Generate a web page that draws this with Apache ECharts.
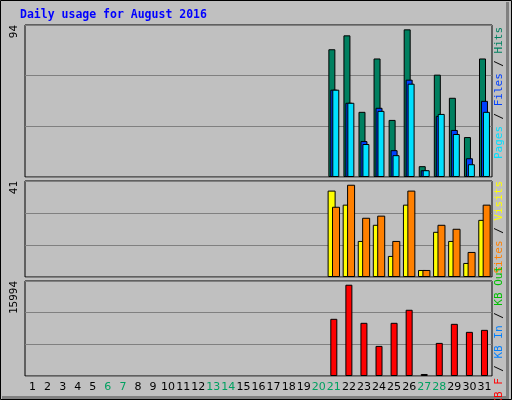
<!DOCTYPE html>
<html><head><meta charset="utf-8">
<script src="https://cdn.jsdelivr.net/npm/echarts@6/dist/echarts.min.js"></script>
<style>html,body{margin:0;padding:0;background:#c0c0c0}#c{width:512px;height:400px}</style>
</head><body><div id="c"></div>
<script>
const days = Array.from({length:31},(_,i)=>String(i+1));
const weekend = ['6','7','13','14','20','21','27','28'];
const hits  = [0,0,0,0,0,0,0,0,0,0,0,0,0,0,0,0,0,0,0,0,79,87.6,40.3,73.3,35.3,91.3,6.7,63.3,49,24.7,73.3];
const files = [0,0,0,0,0,0,0,0,0,0,0,0,0,0,0,0,0,0,0,0,54,45.9,22.2,42.8,16.6,60.2,4.2,37.8,29.1,11.6,47.1];
const pages = [0,0,0,0,0,0,0,0,0,0,0,0,0,0,0,0,0,0,0,0,54,45.9,20.4,40.9,13.5,57.7,4.2,39,26.6,7.9,40.3];
const visits= [0,0,0,0,0,0,0,0,0,0,0,0,0,0,0,0,0,0,0,0,36.9,30.9,15.4,22.3,9,30.9,3,19.3,15.4,6,24.4];
const sites = [0,0,0,0,0,0,0,0,0,0,0,0,0,0,0,0,0,0,0,0,30,39.4,25.3,26.2,15.4,36.9,3,22.3,20.6,10.7,30.9];
const kbytes= [0,0,0,0,0,0,0,0,0,0,0,0,0,0,0,0,0,0,0,0,9627,15367,8952,5067,8952,11150,338,5574,8783,7432,7770];
const maxLabels = ['94','41','15994'];
const maxVals = [94,41,15994];

const nz = a => a.map(v => v === 0 ? null : v);
const chart = echarts.init(document.getElementById('c'));
const grids = [{top:25,height:152},{top:181,height:96},{top:281,height:95}].map(g=>({
  left:25,right:20,top:g.top,height:g.height,show:true,backgroundColor:'#c0c0c0',borderColor:'#000',borderWidth:1
}));
const xAxes = grids.map((g,i)=>({
  type:'category',data:days,gridIndex:i,axisTick:{show:false},axisLine:{show:false},
  axisLabel:{show:i===2,interval:0,fontFamily:'DejaVu Sans',fontSize:11,margin:6,
    color:(v)=>weekend.includes(v)?'#00a060':'#000'}
}));
const yAxes = maxVals.map((m,i)=>({
  type:'value',gridIndex:i,min:0,max:m,interval:m/3,axisLabel:{show:false},
  axisLine:{show:false},axisTick:{show:false},splitLine:{lineStyle:{color:'#808080',width:1}}
}));
const bs = (name,data,color,xi,extra) => Object.assign({
  type:'bar',name,data:nz(data),xAxisIndex:xi,yAxisIndex:xi,barWidth:7,
  itemStyle:{color,borderColor:'#000',borderWidth:1},animation:false
},extra||{});
const rt = (text,x,y,color,fs,font) => ({type:'text',x,y,rotation:Math.PI/2,
  style:{text,fill:color,font:'normal '+fs+'px '+font,textAlign:'right',textVerticalAlign:'middle'}});
const legendParts = (parts, x, yTop) => {
  const out=[]; let y=yTop; const cw=6.6;
  parts.forEach(([t,c])=>{out.push(rt(t,x,y,c,11,'DejaVu Sans Mono')); y+=t.length*cw;});
  return out;
};
chart.setOption({
  backgroundColor:'#c0c0c0',
  grid:grids,xAxis:xAxes,yAxis:yAxes,
  series:[
    bs('Hits',hits,'#008060',0,{barGap:'-72%'}),
    bs('Files',files,'#0040ff',0,{barGap:'-72%'}),
    bs('Pages',pages,'#00e0ff',0,{barGap:'-72%'}),
    bs('Visits',visits,'#ffff00',1,{barGap:'-45%',barWidth:8}),
    bs('Sites',sites,'#ff8000',1,{barGap:'-45%',barWidth:8}),
    bs('KB F',kbytes,'#ff0000',2,{barWidth:7})
  ],
  graphic:[
    {type:'rect',shape:{x:0.5,y:0.5,width:511,height:399},style:{fill:null,stroke:'#000',lineWidth:1}},
    {type:'rect',shape:{x:506,y:2,width:3,height:396},style:{fill:'#808080'}},
    {type:'rect',shape:{x:2,y:396,width:507,height:3},style:{fill:'#808080'}},
    {type:'text',x:20,y:15,style:{text:'Daily usage for August 2016',fill:'#0000ff',font:'bold 11.5px "DejaVu Sans Mono"',textVerticalAlign:'middle'}},
    rt('94',14,25,'#000',11,'DejaVu Sans Mono'),
    rt('41',14,181,'#000',11,'DejaVu Sans Mono'),
    rt('15994',14,281,'#000',11,'DejaVu Sans Mono'),
    ...legendParts([['Hits','#008060'],[' / ','#000'],['Files','#0040ff'],[' / ','#000'],['Pages','#00e0ff']],499,27),
    ...legendParts([['Visits','#ffff00'],[' / ','#000'],['Sites','#ff8000'],[' ','#000']],499,181),
    ...legendParts([['KB Out','#00c000'],[' / ','#000'],['KB In','#0080ff'],[' / ','#000'],['KB F','#ff0000']],499,266)
  ]
});
</script></body></html>
